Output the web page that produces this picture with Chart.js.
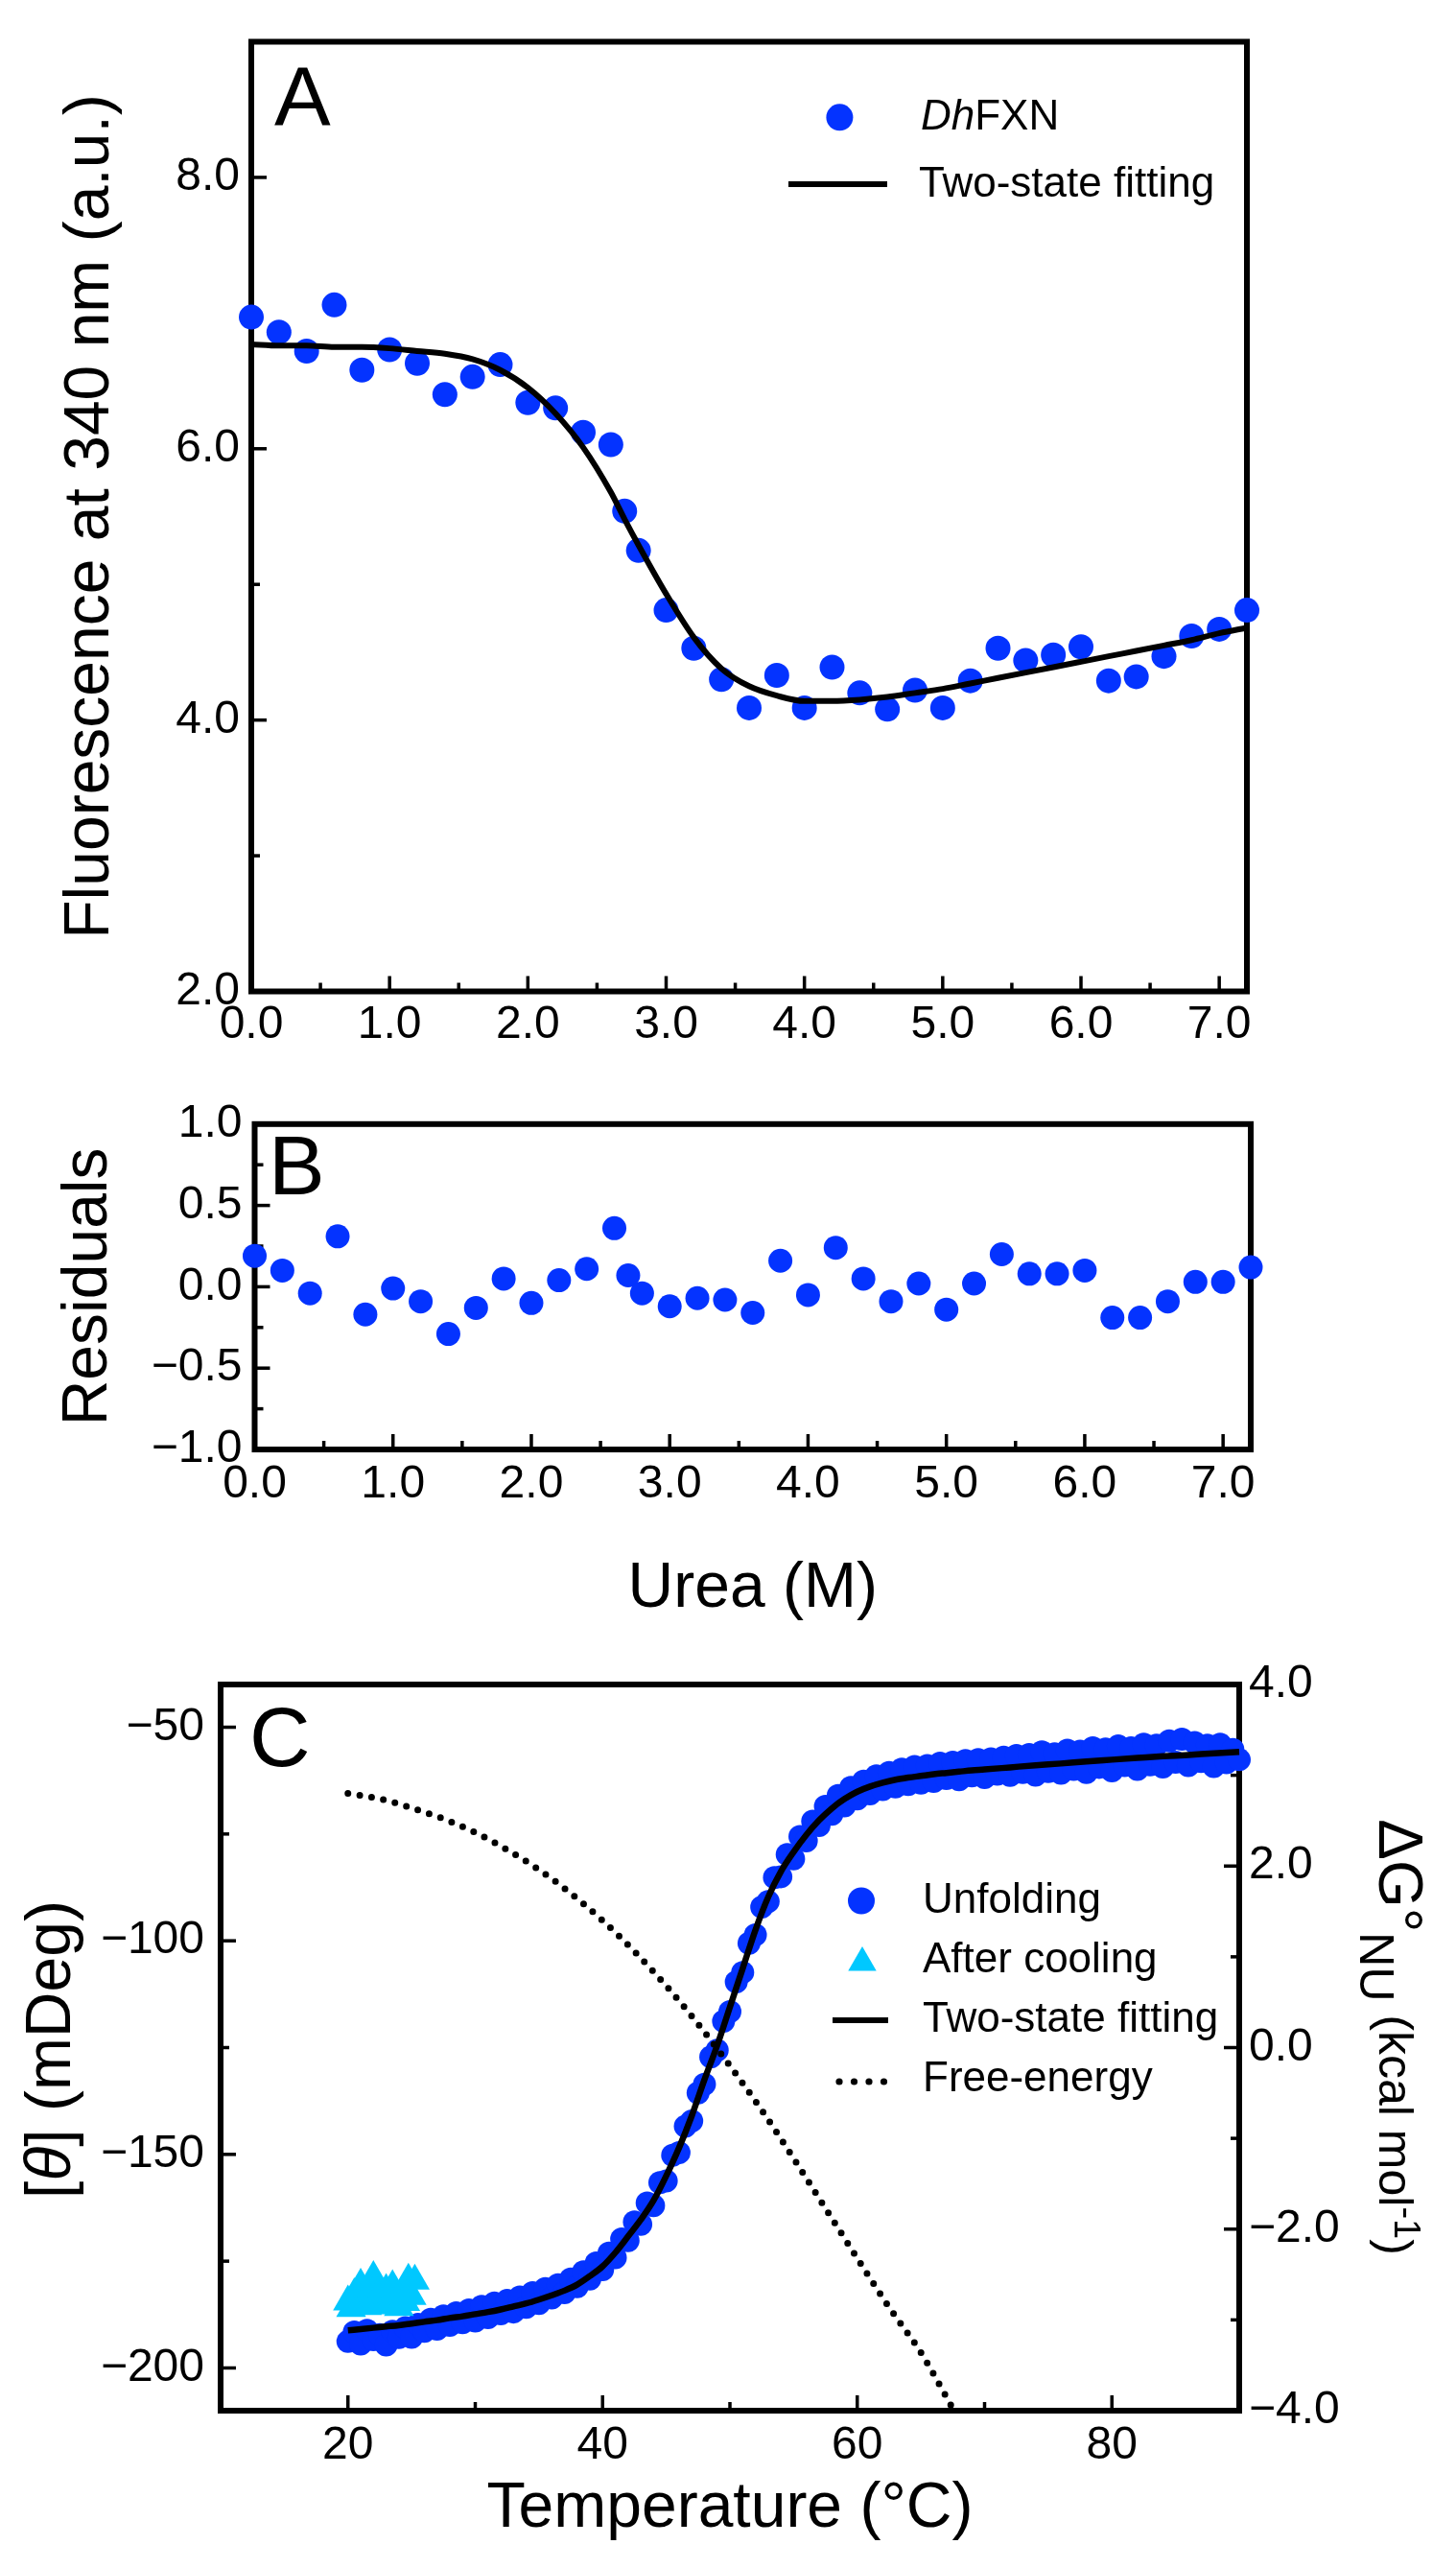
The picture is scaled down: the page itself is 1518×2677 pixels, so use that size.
<!DOCTYPE html>
<html><head><meta charset="utf-8">
<script src="https://cdn.jsdelivr.net/npm/chart.js@4.4.1/dist/chart.umd.min.js"></script>
<style>
html,body{margin:0;padding:0;background:#fff;}
body{width:1518px;height:2677px;position:relative;overflow:hidden;}
canvas{position:absolute;left:0;}
</style></head><body>
<canvas id="cA" width="1518" height="1130" style="top:0;width:1518px;height:1130px"></canvas>
<canvas id="cB" width="1518" height="570" style="top:1130px;width:1518px;height:570px"></canvas>
<canvas id="cC" width="1518" height="977" style="top:1700px;width:1518px;height:977px"></canvas>
<script>
// ---------------- data: panels A and B (urea denaturation) ----------------
const urea = [0,0.2,0.4,0.6,0.8,1.0,1.2,1.4,1.6,1.8,2.0,2.2,2.4,2.6,2.7,2.8,3.0,3.2,3.4,3.6,3.8,4.0,4.2,4.4,4.6,4.8,5.0,5.2,5.4,5.6,5.8,6.0,6.2,6.4,6.6,6.8,7.0,7.2];
const fluorescence = [6.97,6.86,6.72,7.06,6.58,6.73,6.63,6.40,6.53,6.62,6.34,6.30,6.12,6.03,5.54,5.25,4.81,4.53,4.30,4.09,4.33,4.09,4.39,4.20,4.08,4.22,4.09,4.29,4.53,4.44,4.48,4.54,4.29,4.32,4.47,4.62,4.67,4.81];
const fluorescenceFit = [6.77,6.76,6.76,6.75,6.75,6.74,6.72,6.70,6.66,6.58,6.45,6.26,6.01,5.68,5.48,5.29,4.93,4.61,4.38,4.25,4.18,4.14,4.14,4.15,4.17,4.20,4.23,4.27,4.31,4.35,4.39,4.43,4.47,4.51,4.55,4.59,4.64,4.68];
const residuals = [0.19,0.10,-0.04,0.31,-0.17,-0.01,-0.09,-0.29,-0.13,0.05,-0.10,0.04,0.11,0.36,0.07,-0.04,-0.12,-0.07,-0.08,-0.16,0.16,-0.05,0.24,0.05,-0.09,0.02,-0.14,0.02,0.20,0.08,0.08,0.10,-0.19,-0.19,-0.09,0.03,0.03,0.12];

// ---------------- data: panel C (thermal unfolding) ----------------
const tempData = [20,20.5,21,21.5,22,22.5,23,23.5,24,24.5,25,25.5,26,26.5,27,27.5,28,28.5,29,29.5,30,30.5,31,31.5,32,32.5,33,33.5,34,34.5,35,35.5,36,36.5,37,37.5,38,38.5,39,39.5,40,40.5,41,41.5,42,42.5,43,43.5,44,44.5,45,45.5,46,46.5,47,47.5,48,48.5,49,49.5,50,50.5,51,51.5,52,52.5,53,53.5,54,54.5,55,55.5,56,56.5,57,57.5,58,58.5,59,59.5,60,60.5,61,61.5,62,62.5,63,63.5,64,64.5,65,65.5,66,66.5,67,67.5,68,68.5,69,69.5,70,70.5,71,71.5,72,72.5,73,73.5,74,74.5,75,75.5,76,76.5,77,77.5,78,78.5,79,79.5,80,80.5,81,81.5,82,82.5,83,83.5,84,84.5,85,85.5,86,86.5,87,87.5,88,88.5,89,89.5,90];
const thetaUnfolding = [-193.8,-191.6,-194.4,-191.2,-193.4,-192.2,-194.6,-191.4,-192.9,-190.6,-192.8,-189.8,-191.4,-188.6,-190.9,-187.8,-190.0,-187.1,-189.4,-186.4,-189.0,-185.6,-188.2,-184.8,-187.3,-184.2,-186.9,-183.4,-185.8,-182.4,-184.9,-181.4,-183.6,-180.5,-182.4,-179.2,-181.0,-177.5,-179.2,-175.4,-177.0,-173.1,-174.2,-169.8,-170.2,-165.8,-166.4,-161.4,-162.0,-156.6,-156.2,-150.2,-149.6,-143.4,-142.2,-135.6,-133.6,-127.2,-125.6,-118.8,-116.6,-109.6,-107.4,-100.6,-98.6,-92.1,-90.8,-85.2,-85.0,-79.8,-80.8,-75.6,-76.6,-72.0,-73.0,-68.5,-70.4,-66.0,-68.4,-64.1,-66.8,-62.6,-65.6,-61.4,-64.6,-60.6,-64.0,-59.8,-63.4,-59.2,-63.1,-59.0,-62.7,-58.4,-62.0,-58.2,-62.3,-57.8,-61.4,-57.6,-61.8,-57.4,-61.0,-57.0,-61.3,-56.6,-60.6,-56.4,-61.2,-55.8,-60.4,-56.2,-60.8,-55.4,-59.9,-55.6,-60.6,-54.8,-59.4,-55.1,-60.2,-54.4,-59.0,-54.8,-59.9,-54.0,-58.8,-54.2,-59.3,-53.2,-58.2,-52.8,-59.0,-53.6,-58.0,-54.2,-59.2,-54.0,-58.3,-55.2,-57.6];
const tempCooling = [20,20.25,20.5,20.75,21,21.25,21.5,21.75,22,22.25,22.5,22.75,23,23.25,23.5,23.75,24,24.25,24.5,24.75,25,25.25];
const thetaCooling = [-184.5,-186.0,-182.8,-185.2,-180.6,-183.6,-185.6,-182.0,-178.8,-184.0,-182.4,-185.4,-181.8,-184.2,-180.9,-183.4,-185.8,-182.2,-184.6,-179.4,-183.2,-179.6];
const tempFit = [20,21,22,23,24,25,26,27,28,29,30,31,32,33,34,35,36,37,38,39,40,41,42,43,44,45,46,47,48,49,50,51,52,53,54,55,56,57,58,59,60,61,62,63,64,65,66,67,68,69,70,72,74,76,78,80,82,84,86,88,90];
const thetaFit = [-191.2,-190.9,-190.6,-190.3,-190.0,-189.6,-189.2,-188.8,-188.3,-187.9,-187.4,-186.9,-186.3,-185.6,-184.9,-184.0,-183.0,-181.9,-180.5,-178.5,-176.2,-173.0,-169.2,-165.3,-160.8,-155.0,-148.5,-141.0,-132.5,-124.5,-115.5,-106.5,-97.5,-89.8,-83.8,-79.2,-75.2,-71.8,-69.0,-66.8,-65.1,-63.9,-63.0,-62.3,-61.8,-61.4,-61.0,-60.7,-60.4,-60.1,-59.9,-59.4,-58.9,-58.5,-58.0,-57.6,-57.2,-56.8,-56.5,-56.1,-55.8];
const tempFreeEnergy = [20,22.5,25,27.5,30,32.5,35,37.5,40,42.5,45,47.5,50,52.5,55,57.5,60,62.5,65,67.6];
const freeEnergy = [2.80,2.74,2.64,2.52,2.37,2.18,1.96,1.70,1.40,1.06,0.68,0.26,-0.20,-0.69,-1.22,-1.77,-2.32,-2.86,-3.36,-4.0];

// ---------------- ticks ----------------
const ureaTicks = [0,1,2,3,4,5,6,7];
const ureaTickLabels = ['0.0','1.0','2.0','3.0','4.0','5.0','6.0','7.0'];
const ureaMinor = [0.5,1.5,2.5,3.5,4.5,5.5,6.5];
const fluoTicks = [2,4,6,8];
const fluoTickLabels = ['2.0','4.0','6.0','8.0'];
const fluoMinor = [3,5,7];
const residTicks = [-1,-0.5,0,0.5,1];
const residTickLabels = ['\u22121.0','\u22120.5','0.0','0.5','1.0'];
const residMinor = [-0.75,-0.25,0.25,0.75];
const tempTicks = [20,40,60,80];
const tempTickLabels = ['20','40','60','80'];
const tempMinor = [30,50,70];
const thetaTicks = [-200,-150,-100,-50];
const thetaTickLabels = ['\u2212200','\u2212150','\u2212100','\u221250'];
const thetaMinor = [-175,-125,-75];
const dgTicks = [-4,-2,0,2,4];
const dgTickLabels = ['\u22124.0','\u22122.0','0.0','2.0','4.0'];
const dgMinor = [-3,-1,1,3];

// ---------------- styling ----------------
const FONT = '"Liberation Sans", Arial, Helvetica, sans-serif';
const BLUE = '#0433ff';
const CYAN = '#00c8ff';
Chart.defaults.font.family = FONT;
Chart.defaults.color = '#000';

function fixedTicks(values) { return function (scale) { scale.ticks = values.map(v => ({ value: v })); }; }
function labelFor(values, labels) {
  return function (v) { const i = values.findIndex(t => Math.abs(t - v) < 1e-9); return i >= 0 ? labels[i] : ''; };
}
function pts(xs, ys) { return xs.map((x, i) => ({ x: x, y: ys[i] })); }
function fontStr(p) { return (p.italic ? 'italic ' : '') + p.size + 'px ' + FONT; }
function drawParts(ctx, parts, x, y, align) {
  let total = 0;
  parts.forEach(p => { ctx.font = fontStr(p); total += ctx.measureText(p.t).width; });
  let cx = align === 'center' ? x - total / 2 : x;
  ctx.textAlign = 'left'; ctx.textBaseline = 'alphabetic';
  parts.forEach(p => { ctx.font = fontStr(p); ctx.fillText(p.t, cx, y + (p.dy || 0)); cx += ctx.measureText(p.t).width; });
}
function triangle(ctx, x, y, r) {
  ctx.beginPath();
  for (let k = 0; k < 3; k++) {
    const a = k * 2 * Math.PI / 3;
    const px = x + Math.sin(a) * r, py = y - Math.cos(a) * r;
    if (k === 0) ctx.moveTo(px, py); else ctx.lineTo(px, py);
  }
  ctx.closePath(); ctx.fill();
}

function makeDeco(cfg) {
  return {
    id: 'deco',
    beforeDatasetsDraw(chart) {
      const ctx = chart.ctx, a = chart.chartArea;
      ctx.save();
      ctx.strokeStyle = '#000'; ctx.lineWidth = 6; ctx.lineJoin = 'miter';
      ctx.strokeRect(a.left, a.top, a.right - a.left, a.bottom - a.top);
      ctx.lineWidth = 3.5; ctx.lineCap = 'butt';
      cfg.ticks.forEach(t => {
        const s = chart.scales[t.scale];
        const draw = (v, len) => {
          if (Math.abs(v - s.min) < 1e-9 || Math.abs(v - s.max) < 1e-9) return;
          const p = s.getPixelForValue(v);
          ctx.beginPath();
          if (t.side === 'bottom') { ctx.moveTo(p, a.bottom); ctx.lineTo(p, a.bottom - len); }
          else if (t.side === 'left') { ctx.moveTo(a.left, p); ctx.lineTo(a.left + len, p); }
          else { ctx.moveTo(a.right, p); ctx.lineTo(a.right - len, p); }
          ctx.stroke();
        };
        t.major.forEach(v => draw(v, 16));
        t.minor.forEach(v => draw(v, 9));
      });
      ctx.restore();
    },
    afterDraw(chart) {
      const ctx = chart.ctx;
      ctx.save();
      ctx.fillStyle = '#000';
      const L = cfg.letter;
      ctx.font = '88px ' + FONT; ctx.textAlign = 'left'; ctx.textBaseline = 'alphabetic';
      ctx.fillText(L.text, L.x, L.y);
      (cfg.legend || []).forEach(e => {
        ctx.save();
        if (e.kind === 'circle') { ctx.fillStyle = e.color; ctx.beginPath(); ctx.arc(e.x, e.y, e.r, 0, 2 * Math.PI); ctx.fill(); }
        else if (e.kind === 'triangle') { ctx.fillStyle = e.color; triangle(ctx, e.x, e.y, e.r); }
        else if (e.kind === 'line') { ctx.strokeStyle = '#000'; ctx.lineWidth = 6; ctx.beginPath(); ctx.moveTo(e.x1, e.y); ctx.lineTo(e.x2, e.y); ctx.stroke(); }
        else if (e.kind === 'dots') { ctx.fillStyle = '#000'; e.xs.forEach(x => { ctx.beginPath(); ctx.arc(x, e.y, 3.6, 0, 2 * Math.PI); ctx.fill(); }); }
        ctx.restore();
        ctx.fillStyle = '#000';
        drawParts(ctx, e.text, e.tx, e.ty, 'left');
      });
      (cfg.titles || []).forEach(T => {
        ctx.save();
        ctx.translate(T.x, T.y); ctx.rotate(T.rot);
        ctx.fillStyle = '#000';
        drawParts(ctx, T.parts, 0, 0, 'center');
        ctx.restore();
      });
      ctx.restore();
    }
  };
}

function baseOptions(padding) {
  return {
    responsive: false, animation: false, devicePixelRatio: 1,
    layout: { padding: padding },
    plugins: { legend: { display: false }, tooltip: { enabled: false } },
    events: []
  };
}
function axisCommon() {
  return { type: 'linear', grid: { display: false, drawTicks: false, tickLength: 0 }, border: { display: false } };
}

// ---------------- Panel A ----------------
const optA = baseOptions({ left: 0, top: 43.5, right: 218, bottom: 0 });
optA.scales = {
  x: Object.assign(axisCommon(), {
    position: 'bottom', min: 0, max: 7.2,
    afterBuildTicks: fixedTicks(ureaTicks), afterFit: s => { s.height = 96.5; },
    ticks: { callback: labelFor(ureaTicks, ureaTickLabels), font: { size: 48 }, color: '#000', padding: 6, maxRotation: 0, autoSkip: false }
  }),
  y: Object.assign(axisCommon(), {
    position: 'left', min: 2, max: 9,
    afterBuildTicks: fixedTicks(fluoTicks), afterFit: s => { s.width = 262; },
    ticks: { callback: labelFor(fluoTicks, fluoTickLabels), font: { size: 48 }, color: '#000', padding: 12, autoSkip: false },
    title: { display: true, text: 'Fluorescence at 340 nm (a.u.)', font: { size: 66 }, color: '#000', padding: { top: 55, bottom: 0 } }
  })
};
new Chart(document.getElementById('cA'), {
  type: 'scatter',
  data: { datasets: [
    { label: 'Two-state fitting', data: pts(urea, fluorescenceFit), showLine: true, borderColor: '#000', borderWidth: 6,
      pointRadius: 0, cubicInterpolationMode: 'monotone', order: 0, clip: false },
    { label: 'DhFXN', data: pts(urea, fluorescence), pointBackgroundColor: BLUE, backgroundColor: BLUE, borderColor: BLUE,
      pointBorderWidth: 0, pointRadius: 13, order: 1, clip: false }
  ] },
  options: optA,
  plugins: [makeDeco({
    ticks: [{ scale: 'x', side: 'bottom', major: ureaTicks, minor: ureaMinor },
            { scale: 'y', side: 'left', major: fluoTicks, minor: fluoMinor }],
    letter: { text: 'A', x: 286, y: 130.6 },
    legend: [
      { kind: 'circle', x: 875.4, y: 122.3, r: 14, color: BLUE, tx: 960, ty: 134.7,
        text: [{ t: 'Dh', italic: true, size: 44 }, { t: 'FXN', size: 44 }] },
      { kind: 'line', x1: 822, x2: 925, y: 192, tx: 958, ty: 205, text: [{ t: 'Two-state fitting', size: 44 }] }
    ]
  })]
});

// ---------------- Panel B ----------------
const optB = baseOptions({ left: 0, top: 36, right: 214, bottom: 0 });
optB.scales = {
  x: Object.assign(axisCommon(), {
    position: 'bottom', min: 0, max: 7.2,
    afterBuildTicks: fixedTicks(ureaTicks), afterFit: s => { s.height = 189; },
    ticks: { callback: labelFor(ureaTicks, ureaTickLabels), font: { size: 48 }, color: '#000', padding: 8, maxRotation: 0, autoSkip: false },
    title: { display: true, text: 'Urea (M)', font: { size: 66 }, color: '#000', padding: { top: 0, bottom: 4 } }
  }),
  y: Object.assign(axisCommon(), {
    position: 'left', min: -1, max: 1,
    afterBuildTicks: fixedTicks(residTicks), afterFit: s => { s.width = 265.5; },
    ticks: { callback: labelFor(residTicks, residTickLabels), font: { size: 48 }, color: '#000', padding: 13, autoSkip: false },
    title: { display: true, text: 'Residuals', font: { size: 66 }, color: '#000', padding: { top: 53, bottom: 0 } }
  })
};
new Chart(document.getElementById('cB'), {
  type: 'scatter',
  data: { datasets: [
    { label: 'Residuals', data: pts(urea, residuals), pointBackgroundColor: BLUE, backgroundColor: BLUE, borderColor: BLUE,
      pointBorderWidth: 0, pointRadius: 12.5, clip: false }
  ] },
  options: optB,
  plugins: [makeDeco({
    ticks: [{ scale: 'x', side: 'bottom', major: ureaTicks, minor: ureaMinor },
            { scale: 'y', side: 'left', major: residTicks, minor: residMinor }],
    letter: { text: 'B', x: 280, y: 115 }
  })]
});

// ---------------- Panel C ----------------
const optC = baseOptions({ left: 0, top: 56, right: 0, bottom: 0 });
optC.scales = {
  x: Object.assign(axisCommon(), {
    position: 'bottom', min: 10, max: 90,
    afterBuildTicks: fixedTicks(tempTicks), afterFit: s => { s.height = 164; },
    ticks: { callback: labelFor(tempTicks, tempTickLabels), font: { size: 48 }, color: '#000', padding: 8, maxRotation: 0, autoSkip: false },
    title: { display: true, text: 'Temperature (\u00B0C)', font: { size: 66 }, color: '#000', padding: { top: 0, bottom: 22 } }
  }),
  y: Object.assign(axisCommon(), {
    position: 'left', min: -210, max: -40,
    afterBuildTicks: fixedTicks(thetaTicks), afterFit: s => { s.width = 230; },
    ticks: { callback: labelFor(thetaTicks, thetaTickLabels), font: { size: 48 }, color: '#000', padding: 17, autoSkip: false }
  }),
  y2: Object.assign(axisCommon(), {
    position: 'right', min: -4, max: 4,
    afterBuildTicks: fixedTicks(dgTicks), afterFit: s => { s.width = 226; },
    ticks: { callback: labelFor(dgTicks, dgTickLabels), font: { size: 48 }, color: '#000', padding: 10, autoSkip: false }
  })
};
new Chart(document.getElementById('cC'), {
  type: 'scatter',
  data: { datasets: [
    { label: 'Free-energy', data: pts(tempFreeEnergy, freeEnergy), yAxisID: 'y2', showLine: true, borderColor: '#000',
      borderWidth: 7, borderDash: [0, 12.5], borderCapStyle: 'round', pointRadius: 0, cubicInterpolationMode: 'monotone', order: 0, clip: false },
    { label: 'Two-state fitting', data: pts(tempFit, thetaFit), yAxisID: 'y', showLine: true, borderColor: '#000',
      borderWidth: 6.5, pointRadius: 0, cubicInterpolationMode: 'monotone', order: 1, clip: false },
    { label: 'After cooling', data: pts(tempCooling, thetaCooling), yAxisID: 'y', pointStyle: 'triangle',
      pointBackgroundColor: CYAN, backgroundColor: CYAN, borderColor: CYAN, pointBorderWidth: 0, pointRadius: 18, order: 2, clip: false },
    { label: 'Unfolding', data: pts(tempData, thetaUnfolding), yAxisID: 'y', pointBackgroundColor: BLUE, backgroundColor: BLUE,
      borderColor: BLUE, pointBorderWidth: 0, pointRadius: 12, order: 3, clip: false }
  ] },
  options: optC,
  plugins: [makeDeco({
    ticks: [{ scale: 'x', side: 'bottom', major: tempTicks, minor: tempMinor },
            { scale: 'y', side: 'left', major: thetaTicks, minor: thetaMinor },
            { scale: 'y2', side: 'right', major: dgTicks, minor: dgMinor }],
    letter: { text: 'C', x: 260, y: 141 },
    legend: [
      { kind: 'circle', x: 898, y: 281.5, r: 14, color: BLUE, tx: 962, ty: 294, text: [{ t: 'Unfolding', size: 44 }] },
      { kind: 'triangle', x: 899, y: 346, r: 17, color: CYAN, tx: 962, ty: 355.7, text: [{ t: 'After cooling', size: 44 }] },
      { kind: 'line', x1: 868, x2: 926, y: 406, tx: 962, ty: 417.8, text: [{ t: 'Two-state fitting', size: 44 }] },
      { kind: 'dots', xs: [875, 890.5, 906, 921.5], y: 470, tx: 962, ty: 480.4, text: [{ t: 'Free-energy', size: 44 }] }
    ],
    titles: [
      { x: 73, y: 436.5, rot: -Math.PI / 2,
        parts: [{ t: '[', size: 66 }, { t: '\u03B8', italic: true, size: 66 }, { t: '] (mDeg)', size: 66 }] },
      { x: 1438, y: 423.5, rot: Math.PI / 2,
        parts: [{ t: '\u0394G\u00B0', size: 64 }, { t: 'NU', size: 50, dy: 20 }, { t: ' (kcal mol', size: 50 },
                { t: '-1', size: 38, dy: -16 }, { t: ')', size: 50 }] }
    ]
  })]
});
</script>
</body></html>
